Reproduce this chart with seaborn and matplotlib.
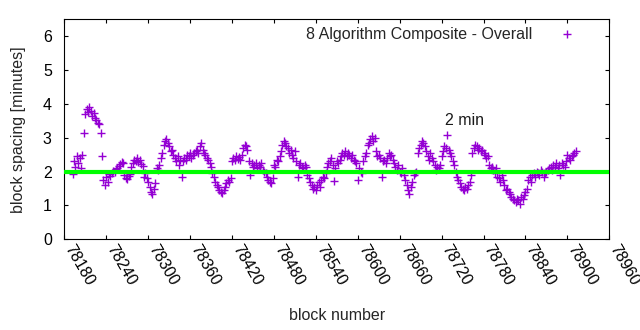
import numpy as np
import pandas as pd
import matplotlib
matplotlib.use("Agg")
import matplotlib.pyplot as plt
import seaborn as sns

# ---- data ----
series_label = "8 Algorithm Composite - Overall"
first_block = 78192
block_step = 2
spacing_minutes = [
    1.93, 2.30, 2.15, 2.45, 2.25, 2.40, 2.10, 2.50, 3.15, 3.70,
    3.85, 3.75, 3.90, 3.80, 3.65, 3.72, 3.58, 3.52, 3.45, 3.40,
    3.15, 2.45, 1.75, 1.60, 1.85, 1.70, 1.92, 1.88, 1.95, 2.02,
    1.98, 2.08, 2.12, 2.18, 2.22, 2.28, 2.25, 1.90, 1.82, 1.78,
    1.88, 1.92, 2.15, 2.25, 2.35, 2.30, 2.40, 2.28, 2.35, 2.22,
    2.18, 1.85, 1.95, 1.80, 1.70, 1.55, 1.40, 1.35, 1.50, 1.65,
    2.10, 2.05, 2.20, 2.40, 2.55, 2.80, 2.90, 2.95, 2.85, 2.75,
    2.60, 2.65, 2.50, 2.40, 2.30, 2.45, 2.20, 2.35, 1.85, 2.30,
    2.40, 2.35, 2.50, 2.45, 2.55, 2.40, 2.50, 2.55, 2.60, 2.65,
    2.55, 2.75, 2.85, 2.65, 2.55, 2.50, 2.40, 2.35, 2.25, 2.15,
    1.95, 1.85, 1.70, 1.60, 1.55, 1.45, 1.40, 1.38, 1.45, 1.55,
    1.65, 1.75, 1.70, 1.80, 2.30, 2.40, 2.35, 2.45, 2.38, 2.42,
    2.35, 2.50, 2.70, 2.80, 2.75, 2.65, 2.30, 1.90, 2.25, 2.15,
    2.20, 2.25, 2.10, 2.20, 2.15, 2.25, 2.05, 2.00, 1.95, 1.85,
    1.75, 1.70, 1.65, 1.80, 2.20, 2.15, 2.35, 2.30, 2.45, 2.60,
    2.80, 2.90, 2.85, 2.75, 2.70, 2.55, 2.65, 2.50, 2.40, 2.60,
    2.30, 1.85, 2.20, 2.25, 2.15, 2.10, 2.20, 2.15, 1.90, 1.80,
    1.70, 1.60, 1.50, 1.55, 1.45, 1.60, 1.70, 1.55, 1.75, 1.85,
    1.80, 1.95, 2.15, 2.25, 2.30, 2.40, 2.20, 1.72, 2.10, 2.30,
    2.25, 2.35, 2.45, 2.55, 2.50, 2.60, 2.45, 2.55, 2.50, 2.40,
    2.50, 2.35, 2.30, 2.25, 1.75, 2.10, 2.00, 1.95, 2.30, 2.45,
    2.55, 2.80, 2.85, 2.95, 3.05, 2.90, 3.00, 2.60, 2.45, 2.50,
    2.40, 1.85, 2.30, 2.35, 2.25, 2.40, 2.55, 2.45, 2.50, 2.35,
    2.25, 2.15, 2.05, 2.20, 2.00, 1.95, 2.10, 1.90, 1.75, 1.60,
    1.45, 1.35, 1.55, 1.70, 1.90, 1.95, 2.00, 2.55, 2.70, 2.80,
    2.90, 2.85, 2.75, 2.60, 2.45, 2.35, 2.55, 2.40, 2.30, 2.20,
    2.05, 2.15, 2.10, 2.20, 2.45, 2.60, 2.75, 2.70, 3.08, 2.65,
    2.55, 2.45, 2.30, 2.20, 2.00, 1.85, 1.75, 1.65, 1.55, 1.50,
    1.45, 1.55, 1.50, 1.60, 1.70, 1.90, 2.55, 2.70, 2.80, 2.75,
    2.65, 2.70, 2.60, 2.65, 2.55, 2.50, 2.40, 2.45, 2.20, 2.10,
    2.15, 2.05, 1.95, 2.10, 1.85, 1.80, 1.70, 1.90, 1.75, 1.60,
    1.45, 1.50, 1.40, 1.35, 1.25, 1.20, 1.15, 1.10, 1.20, 1.15,
    1.05, 1.25, 1.20, 1.30, 1.40, 1.50, 1.75, 1.85, 1.70, 1.90,
    1.95, 1.85, 2.00, 1.95, 1.90, 2.05, 2.00, 1.85, 1.95, 2.00,
    2.05, 2.10, 2.15, 2.05, 2.20, 2.15, 2.25, 2.10, 2.20, 1.90,
    2.25, 2.20, 2.15, 2.30, 2.50, 2.40, 2.35, 2.45, 2.50, 2.55,
    2.60,
]
block_numbers = [first_block + block_step * i for i in range(len(spacing_minutes))]
target_minutes = 2
target_label = "2 min"
target_label_pos = (78725, 3.5)
x_ticks = list(range(78180, 78961, 60))
y_ticks = [0, 1, 2, 3, 4, 5, 6]
x_limits = (78180, 78960)
y_limits = (0, 6.5)

df = pd.DataFrame({"block": block_numbers, "spacing": spacing_minutes})

# ---- styling ----
sns.set_style("ticks")
plt.rcParams["font.family"] = ["Liberation Sans", "DejaVu Sans"]
plt.rcParams["font.size"] = 11.5

fig = plt.figure(figsize=(6.4, 3.3), dpi=100)
ax = fig.add_axes([0.1005, 0.2748, 0.8515, 0.6667])

purple = "#9400d3"
sns.scatterplot(data=df, x="block", y="spacing", marker="+", s=32,
                color=purple, linewidth=1.0, ax=ax, label=series_label,
                zorder=2)
ax.axhline(target_minutes, color="#00ff00", lw=3.0, zorder=3)
ax.text(target_label_pos[0], target_label_pos[1], target_label,
        ha="left", va="center", fontsize=11.5, color="#1a1a1a")

ax.set_xlim(*x_limits)
ax.set_ylim(*y_limits)
ax.set_xticks(x_ticks)
ax.set_yticks(y_ticks)
ax.set_xticklabels([str(t) for t in x_ticks], rotation=-60, ha="left",
                   va="baseline", rotation_mode="anchor")
for s in ax.spines.values():
    s.set_visible(True)
    s.set_linewidth(0.8)
    s.set_color("black")
ax.tick_params(axis="both", direction="in", length=3, width=0.8,
               top=True, right=True, labelsize=11.5, colors="black")
ax.tick_params(axis="x", pad=6.6)
ax.tick_params(axis="y", pad=9)

ax.set_xlabel("block number", fontsize=11.5, labelpad=14)
ax.set_ylabel("block spacing [minutes]", fontsize=11.5, labelpad=12)

leg = ax.legend(loc="upper right", bbox_to_anchor=(0.97, 0.996),
                borderaxespad=0, frameon=False, markerfirst=False,
                handlelength=2.5, handletextpad=0.9, scatterpoints=1,
                fontsize=11.5)

fig.savefig("out.png", dpi=100)
